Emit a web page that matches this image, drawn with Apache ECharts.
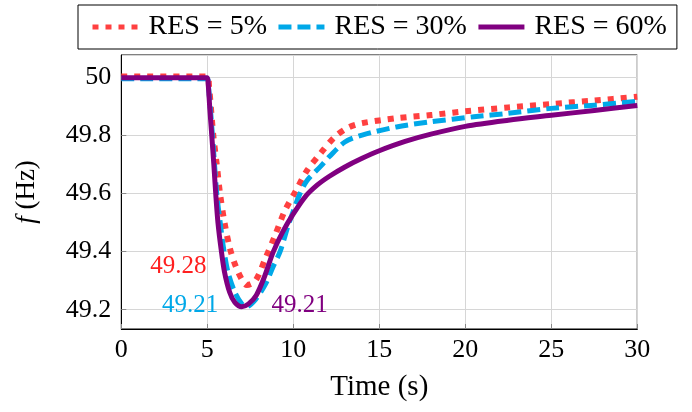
<!DOCTYPE html>
<html><head><meta charset="utf-8">
<script src="https://cdn.jsdelivr.net/npm/echarts@6/dist/echarts.min.js"></script>
<style>html,body{margin:0;padding:0;background:#fff}#c{width:692px;height:412px}</style>
</head><body><div id="c"></div>
<script>
const seriesNames = ['RES = 5%', 'RES = 30%', 'RES = 60%'];
const xTicks = [0, 5, 10, 15, 20, 25, 30];
const yTicks = [49.2, 49.4, 49.6, 49.8, 50];

const t5 = [0, 5, 5.1, 5.35, 5.55, 5.74, 6.0, 6.32, 6.65, 7.0, 7.3, 7.8, 8.4, 8.9, 9.5, 10.15, 10.8, 11.6, 12.4, 13.2, 14.0, 16, 18, 20, 22.5, 25, 27.5, 30];
const f5 = [50.004, 50.004, 49.97, 49.80, 49.70, 49.60, 49.50, 49.41, 49.35, 49.305, 49.285, 49.30, 49.38, 49.45, 49.54, 49.61, 49.68, 49.74, 49.795, 49.828, 49.843, 49.86, 49.871, 49.884, 49.897, 49.909, 49.921, 49.934];

const t30 = [0, 5, 5.07, 5.3, 5.55, 5.75, 5.95, 6.2, 6.6, 7.0, 7.25, 7.8, 8.4, 8.8, 9.23, 9.7, 10.0, 10.35, 10.8, 11.6, 12.1, 13.0, 14.0, 16, 18, 20.5, 22.5, 25, 27.5, 30];
const f30 = [49.996, 49.996, 49.97, 49.80, 49.60, 49.50, 49.41, 49.33, 49.26, 49.22, 49.21, 49.235, 49.29, 49.345, 49.40, 49.49, 49.54, 49.595, 49.645, 49.695, 49.728, 49.778, 49.802, 49.83, 49.848, 49.865, 49.877, 49.894, 49.905, 49.918];

const t60 = [0, 5, 5.05, 5.15, 5.26, 5.38, 5.49, 5.62, 5.8, 6.0, 6.3, 6.6, 7.0, 7.4, 7.85, 8.3, 8.84, 9.4, 10.0, 10.7, 11.4, 12.1, 13.0, 14.0, 15, 16.5, 18, 20, 22.5, 25, 27.5, 30];
const f60 = [50, 50, 49.98, 49.89, 49.80, 49.70, 49.60, 49.50, 49.41, 49.33, 49.26, 49.225, 49.21, 49.22, 49.25, 49.31, 49.40, 49.47, 49.53, 49.59, 49.63, 49.66, 49.692, 49.722, 49.748, 49.78, 49.805, 49.832, 49.853, 49.870, 49.887, 49.904];

const annoText = ['49.28', '49.21', '49.21'];
const annoAt = [[3.32, 49.348], [4.0, 49.214], [10.37, 49.214]];

const colors = ['#ff4040', '#00a8e8', '#800080'];
const textColors = ['#ff2020', '#00a8e8', '#800080'];
const FONT = '"Liberation Serif", "Times New Roman", serif';

function pairs(t, f) { return t.map((v, i) => [v, f[i]]); }
const dataSets = [pairs(t5, f5), pairs(t30, f30), pairs(t60, f60)];
const lineTypes = [[6, 7], [13, 6], 'solid'];
const widths = [6, 5, 5];

const chart = echarts.init(document.getElementById('c'), null, {renderer: 'canvas'});
chart.setOption({
  animation: false,
  textStyle: {fontFamily: FONT},
  grid: {left: 121.3, right: 54.7, top: 55, bottom: 83, show: true, borderColor: '#000', borderWidth: 1, backgroundColor: 'transparent'},
  legend: {
    top: 5, left: 78,
    data: seriesNames,
    borderColor: '#000', borderWidth: 1, borderRadius: 0,
    padding: [8, 10, 8, 12],
    itemWidth: 46, itemHeight: 14, itemGap: 9,
    itemStyle: {opacity: 0},
    lineStyle: {width: 5},
    textStyle: {fontFamily: FONT, fontSize: 28, color: '#000', padding: [0, 0, 0, 5]}
  },
  xAxis: {
    type: 'value', min: 0, max: 30, interval: 5,
    name: 'Time (s)', nameLocation: 'middle', nameGap: 44,
    nameTextStyle: {fontFamily: FONT, fontSize: 29, color: '#000'},
    axisLine: {show: true, lineStyle: {color: '#000', width: 1}},
    axisTick: {show: true, inside: true, length: 5, lineStyle: {color: '#888'}},
    axisLabel: {fontFamily: FONT, fontSize: 26, color: '#000', margin: 8,
      formatter: v => xTicks.includes(v) ? String(v) : ''},
    splitLine: {show: true, lineStyle: {color: '#d6d6d6', width: 1}}
  },
  yAxis: {
    type: 'value', min: 49.1334, max: 50.078, splitNumber: 5,
    name: '{i|f} (Hz)', nameLocation: 'middle', nameGap: 81, nameRotate: 90,
    nameTextStyle: {fontFamily: FONT, fontSize: 27, color: '#000',
      rich: {i: {fontFamily: FONT, fontStyle: 'italic', fontSize: 27, color: '#000'}}},
    axisLine: {show: true, lineStyle: {color: '#000', width: 1}},
    axisTick: {show: true, inside: true, length: 5, lineStyle: {color: '#888'}},
    axisLabel: {fontFamily: FONT, fontSize: 26, color: '#000', margin: 10, showMinLabel: false, showMaxLabel: false,
      formatter: v => {
        const m = yTicks.find(y => Math.abs(y - v) < 1e-6);
        return m === undefined ? '' : (m === 50 ? '50' : m.toFixed(1));
      }},
    splitLine: {show: true, lineStyle: {color: '#d6d6d6', width: 1}}
  },
  series: seriesNames.map((n, i) => ({
    name: n, type: 'line', data: dataSets[i], symbol: 'none', smooth: 0.3,
    lineStyle: {color: colors[i], width: widths[i], type: lineTypes[i], cap: 'butt', join: 'round'},
    itemStyle: {color: colors[i]},
    z: 2 + i,
    markPoint: {
      symbol: 'circle', symbolSize: 0, silent: true,
      data: [{coord: annoAt[i], value: annoText[i]}],
      label: {show: true, position: 'inside', formatter: annoText[i], color: textColors[i], fontFamily: FONT, fontSize: 25}
    }
  }))
});
</script></body></html>
